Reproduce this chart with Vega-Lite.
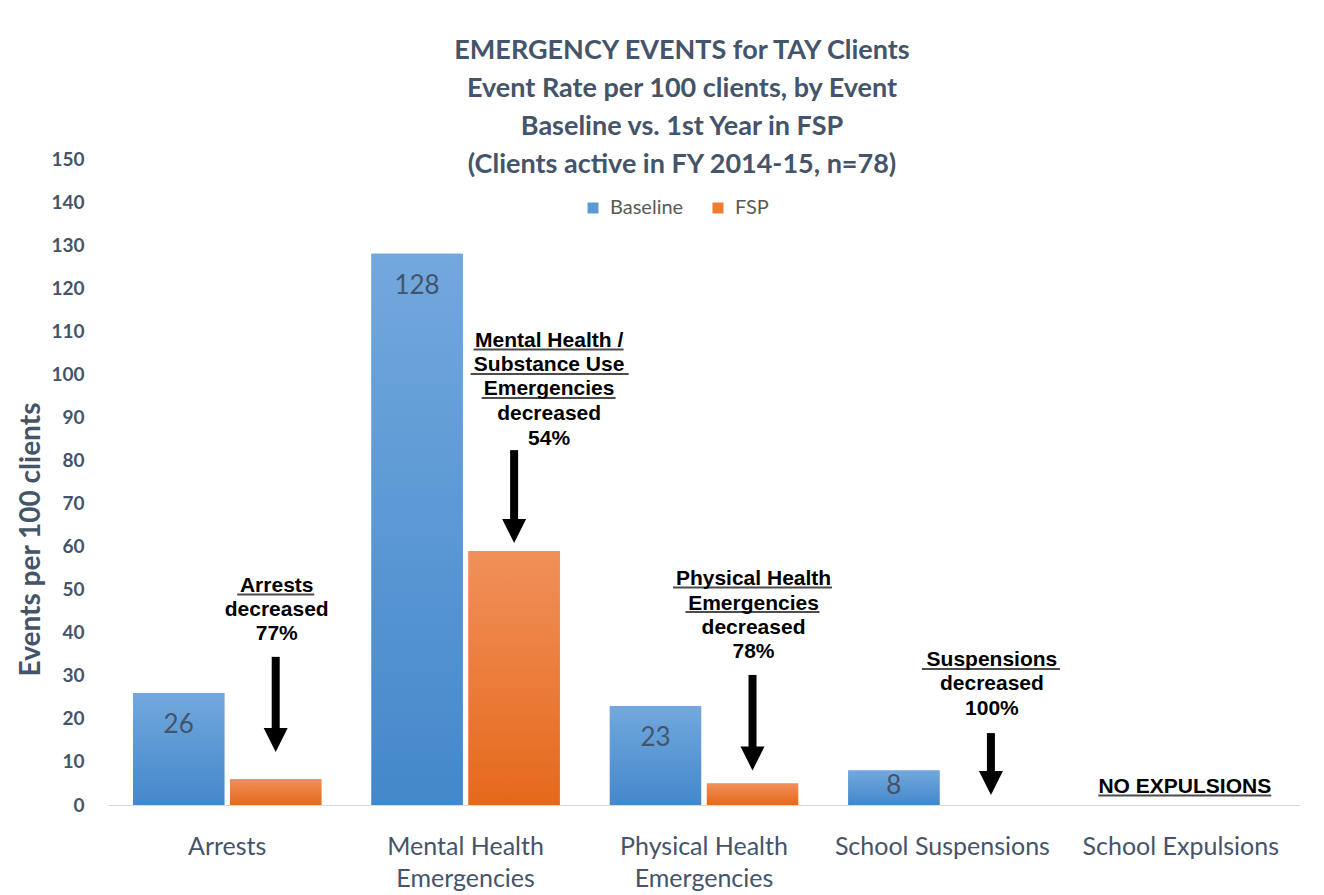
{
  "$schema": "https://vega.github.io/schema/vega-lite/v6.json",
  "width": 1192,
  "height": 646,
  "autosize": "none",
  "padding": {"left": 108, "top": 159, "right": 24, "bottom": 90},
  "background": "white",
  "config": {
    "view": {"stroke": null},
    "font": "Lato",
    "axisY": {
      "titleFont": "Lato", "titleFontSize": 28, "titleFontWeight": "bold",
      "titleColor": "#44546A", "titleX": -77, "titleY": 380, "titleAngle": -90, "titleAlign": "center", "titleBaseline": "middle",
      "labelFont": "Lato", "labelFontSize": 19, "labelFontWeight": "bold", "labelColor": "#44546A",
      "labelPadding": 24, "ticks": false, "domain": false, "grid": false
    }
  },
  "title": {
    "text": ["EMERGENCY EVENTS for TAY Clients", "Event Rate per 100 clients, by Event", "Baseline vs. 1st Year in FSP", "(Clients active in FY 2014-15, n=78)"],
    "font": "Lato", "fontSize": 27, "fontWeight": "bold", "color": "#44546A",
    "lineHeight": 38, "anchor": "middle", "frame": "group", "dx": -22, "dy": 29, "offset": 0
  },
  "datasets": {
    "bars": [
      {"cat": "Arrests", "s": "Baseline", "v": 26},
      {"cat": "Arrests", "s": "FSP", "v": 6},
      {"cat": "Mental Health Emergencies", "s": "Baseline", "v": 128},
      {"cat": "Mental Health Emergencies", "s": "FSP", "v": 59},
      {"cat": "Physical Health Emergencies", "s": "Baseline", "v": 23},
      {"cat": "Physical Health Emergencies", "s": "FSP", "v": 5},
      {"cat": "School Suspensions", "s": "Baseline", "v": 8},
      {"cat": "School Suspensions", "s": "FSP", "v": 0},
      {"cat": "School Expulsions", "s": "Baseline", "v": 0},
      {"cat": "School Expulsions", "s": "FSP", "v": 0}
    ],
    "notes": [
      {"cat": "Arrests", "s": "FSP", "y": 49.46, "t": "Arrests"},
      {"cat": "Arrests", "s": "FSP", "y": 43.89, "t": "decreased"},
      {"cat": "Arrests", "s": "FSP", "y": 38.31, "t": "77%"},
      {"cat": "Mental Health Emergencies", "s": "FSP", "y": 106.35, "t": "Mental Health /"},
      {"cat": "Mental Health Emergencies", "s": "FSP", "y": 100.66, "t": "Substance Use"},
      {"cat": "Mental Health Emergencies", "s": "FSP", "y": 95.09, "t": "Emergencies"},
      {"cat": "Mental Health Emergencies", "s": "FSP", "y": 89.40, "t": "decreased"},
      {"cat": "Mental Health Emergencies", "s": "FSP", "y": 83.59, "t": "54%"},
      {"cat": "Physical Health Emergencies", "s": "FSP", "y": 51.08, "t": "Physical Health"},
      {"cat": "Physical Health Emergencies", "s": "FSP", "y": 45.39, "t": "Emergencies"},
      {"cat": "Physical Health Emergencies", "s": "FSP", "y": 39.82, "t": "decreased"},
      {"cat": "Physical Health Emergencies", "s": "FSP", "y": 34.13, "t": "78%"},
      {"cat": "School Suspensions", "s": "FSP", "y": 32.16, "t": "Suspensions"},
      {"cat": "School Suspensions", "s": "FSP", "y": 26.59, "t": "decreased"},
      {"cat": "School Suspensions", "s": "FSP", "y": 20.90, "t": "100%"}
    ],
    "arrows": [
      {"cat": "Arrests", "s": "FSP", "top": 34.4, "head": 15.1},
      {"cat": "Mental Health Emergencies", "s": "FSP", "top": 82.4, "head": 63.6},
      {"cat": "Physical Health Emergencies", "s": "FSP", "top": 30.2, "head": 10.8},
      {"cat": "School Suspensions", "s": "FSP", "top": 16.7, "head": 5.1}
    ],
    "noexp": [
      {"cat": "School Expulsions", "y": 2.8, "t": "NO EXPULSIONS"}
    ]
  },
  "encoding": {
    "x": {
      "field": "cat", "type": "nominal",
      "scale": {"domain": ["Arrests", "Mental Health Emergencies", "Physical Health Emergencies", "School Suspensions", "School Expulsions"], "paddingInner": 0.21, "paddingOuter": 0.105},
      "axis": {
        "title": null, "labelFont": "Lato", "labelFontSize": 25, "labelColor": "#44546A",
        "labelAngle": 0, "labelPadding": 29, "ticks": false, "domainColor": "#D9D9D9", "domainWidth": 1,
        "labelLineHeight": 32, "labelBaseline": "top", "labelLimit": 0,
        "labelExpr": "datum.label == 'Mental Health Emergencies' ? ['Mental Health','Emergencies'] : datum.label == 'Physical Health Emergencies' ? ['Physical Health','Emergencies'] : datum.label"
      }
    }
  },
  "layer": [
    {
      "data": {"name": "bars"},
      "mark": {"type": "bar"},
      "encoding": {
        "xOffset": {"field": "s", "type": "nominal", "scale": {"domain": ["Baseline", "FSP"], "paddingInner": 0.059}},
        "y": {
          "field": "v", "type": "quantitative",
          "scale": {"domain": [0, 150], "nice": false},
          "axis": {"title": "Events per 100 clients", "values": [0, 10, 20, 30, 40, 50, 60, 70, 80, 90, 100, 110, 120, 130, 140, 150]}
        },
        "color": {
          "field": "s", "type": "nominal",
          "scale": {"domain": ["Baseline", "FSP"], "range": ["#5B9BD5", "#ED7D31"]},
          "legend": {
            "title": null, "orient": "none", "legendX": 475, "legendY": 39, "direction": "horizontal",
            "symbolType": "square", "symbolSize": 121, "symbolStrokeWidth": 0,
            "labelFont": "Lato", "labelFontSize": 20, "labelColor": "#595959",
            "columnPadding": 24, "labelOffset": 7, "padding": 0
          }
        }
      }
    },
    {
      "data": {"name": "bars"},
      "transform": [{"filter": "datum.s == 'Baseline'"}],
      "mark": {"type": "bar", "color": {"gradient": "linear", "x1": 0, "y1": 0, "x2": 0, "y2": 1, "stops": [{"offset": 0, "color": "#72A8DE"}, {"offset": 1, "color": "#4488CA"}]}},
      "encoding": {
        "xOffset": {"field": "s", "type": "nominal"},
        "y": {"field": "v", "type": "quantitative", "axis": {"title": "Events per 100 clients"}}
      }
    },
    {
      "data": {"name": "bars"},
      "transform": [{"filter": "datum.s == 'FSP'"}],
      "mark": {"type": "bar", "color": {"gradient": "linear", "x1": 0, "y1": 0, "x2": 0, "y2": 1, "stops": [{"offset": 0, "color": "#F1905A"}, {"offset": 1, "color": "#E5691B"}]}},
      "encoding": {
        "xOffset": {"field": "s", "type": "nominal"},
        "y": {"field": "v", "type": "quantitative", "axis": {"title": "Events per 100 clients"}}
      }
    },
    {
      "data": {"name": "bars"},
      "transform": [{"filter": "datum.s == 'Baseline' && datum.v >= 20"}],
      "mark": {"type": "text", "font": "Lato", "fontSize": 26, "color": "#44546A", "baseline": "alphabetic", "dy": 40},
      "encoding": {
        "xOffset": {"field": "s", "type": "nominal"},
        "y": {"field": "v", "type": "quantitative", "axis": {"title": "Events per 100 clients"}},
        "text": {"field": "v", "type": "quantitative"}
      }
    },
    {
      "data": {"name": "bars"},
      "transform": [{"filter": "datum.s == 'Baseline' && datum.v > 0 && datum.v < 20"}],
      "mark": {"type": "text", "font": "Lato", "fontSize": 26, "color": "#44546A", "baseline": "alphabetic", "dy": 23},
      "encoding": {
        "xOffset": {"field": "s", "type": "nominal"},
        "y": {"field": "v", "type": "quantitative", "axis": {"title": "Events per 100 clients"}},
        "text": {"field": "v", "type": "quantitative"}
      }
    },
    {
      "data": {"name": "notes"},
      "transform": [{"filter": "datum.cat != 'Mental Health Emergencies'"}],
      "mark": {"type": "text", "font": "Liberation Sans", "fontSize": 21, "fontWeight": "bold", "color": "#000000", "baseline": "alphabetic", "align": "center", "dx": 1},
      "encoding": {
        "xOffset": {"field": "s", "type": "nominal"},
        "y": {"field": "y", "type": "quantitative", "axis": {"title": "Events per 100 clients"}},
        "text": {"field": "t"}
      }
    },
    {
      "data": {"name": "notes"},
      "transform": [{"filter": "datum.cat == 'Mental Health Emergencies'"}],
      "mark": {"type": "text", "font": "Liberation Sans", "fontSize": 21, "fontWeight": "bold", "color": "#000000", "baseline": "alphabetic", "align": "center", "dx": 35},
      "encoding": {
        "xOffset": {"field": "s", "type": "nominal"},
        "y": {"field": "y", "type": "quantitative", "axis": {"title": "Events per 100 clients"}},
        "text": {"field": "t"}
      }
    },
    {
      "data": {"name": "arrows"},
      "mark": {"type": "rule", "color": "#000000", "strokeWidth": 8},
      "encoding": {
        "xOffset": {"field": "s", "type": "nominal"},
        "y": {"field": "top", "type": "quantitative", "axis": {"title": "Events per 100 clients"}},
        "y2": {"field": "head"}
      }
    },
    {
      "data": {"name": "arrows"},
      "mark": {"type": "point", "shape": "M-1,-1L1,-1L0,1Z", "size": 576, "filled": true, "color": "#000000", "opacity": 1, "strokeWidth": 0},
      "encoding": {
        "xOffset": {"field": "s", "type": "nominal"},
        "y": {"field": "head", "type": "quantitative", "axis": {"title": "Events per 100 clients"}}
      }
    },
    {
      "data": {"name": "noexp"},
      "mark": {"type": "text", "font": "Liberation Sans", "fontSize": 21, "fontWeight": "bold", "color": "#000000", "baseline": "alphabetic", "align": "center", "dx": 4},
      "encoding": {
        "y": {"field": "y", "type": "quantitative", "axis": {"title": "Events per 100 clients"}},
        "text": {"field": "t"}
      }
    },
    {
      "data": {"name": "noexp"},
      "mark": {"type": "tick", "orient": "horizontal", "size": 173, "thickness": 2, "color": "#000000", "yOffset": 2.5, "xOffset": 4},
      "encoding": {
        "y": {"field": "y", "type": "quantitative", "axis": {"title": "Events per 100 clients"}}
      }
    },
    {
      "data": {"name": "notes"},
      "transform": [{"filter": "datum.t == 'Arrests'"}],
      "mark": {"type": "tick", "orient": "horizontal", "size": 77, "thickness": 2, "color": "#000000", "yOffset": 2.5},
      "encoding": {
        "xOffset": {"field": "s", "type": "nominal"},
        "y": {"field": "y", "type": "quantitative", "axis": {"title": "Events per 100 clients"}}
      }
    },
    {
      "data": {"name": "notes"},
      "transform": [{"filter": "datum.cat == 'Mental Health Emergencies' && datum.t == 'Mental Health /'"}],
      "mark": {"type": "tick", "orient": "horizontal", "size": 150, "thickness": 2, "color": "#000000", "yOffset": 2.5, "xOffset": 83},
      "encoding": {
        "y": {"field": "y", "type": "quantitative", "axis": {"title": "Events per 100 clients"}}
      }
    },
    {
      "data": {"name": "notes"},
      "transform": [{"filter": "datum.cat == 'Mental Health Emergencies' && datum.t == 'Substance Use'"}],
      "mark": {"type": "tick", "orient": "horizontal", "size": 158, "thickness": 2, "color": "#000000", "yOffset": 2.5, "xOffset": 84},
      "encoding": {
        "y": {"field": "y", "type": "quantitative", "axis": {"title": "Events per 100 clients"}}
      }
    },
    {
      "data": {"name": "notes"},
      "transform": [{"filter": "datum.cat == 'Mental Health Emergencies' && datum.t == 'Emergencies'"}],
      "mark": {"type": "tick", "orient": "horizontal", "size": 134, "thickness": 2, "color": "#000000", "yOffset": 2.5, "xOffset": 83},
      "encoding": {
        "y": {"field": "y", "type": "quantitative", "axis": {"title": "Events per 100 clients"}}
      }
    },
    {
      "data": {"name": "notes"},
      "transform": [{"filter": "datum.cat == 'Physical Health Emergencies' && datum.t == 'Physical Health'"}],
      "mark": {"type": "tick", "orient": "horizontal", "size": 159, "thickness": 2, "color": "#000000", "yOffset": 2.5},
      "encoding": {
        "xOffset": {"field": "s", "type": "nominal"},
        "y": {"field": "y", "type": "quantitative", "axis": {"title": "Events per 100 clients"}}
      }
    },
    {
      "data": {"name": "notes"},
      "transform": [{"filter": "datum.cat == 'Physical Health Emergencies' && datum.t == 'Emergencies'"}],
      "mark": {"type": "tick", "orient": "horizontal", "size": 134, "thickness": 2, "color": "#000000", "yOffset": 2.5},
      "encoding": {
        "xOffset": {"field": "s", "type": "nominal"},
        "y": {"field": "y", "type": "quantitative", "axis": {"title": "Events per 100 clients"}}
      }
    },
    {
      "data": {"name": "notes"},
      "transform": [{"filter": "datum.t == 'Suspensions'"}],
      "mark": {"type": "tick", "orient": "horizontal", "size": 138, "thickness": 2, "color": "#000000", "yOffset": 2.5},
      "encoding": {
        "xOffset": {"field": "s", "type": "nominal"},
        "y": {"field": "y", "type": "quantitative", "axis": {"title": "Events per 100 clients"}}
      }
    }
  ]
}
